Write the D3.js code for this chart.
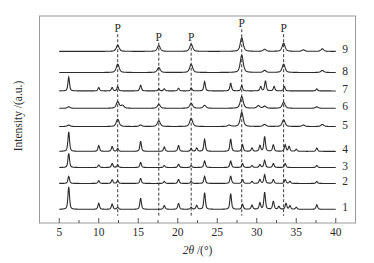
<!DOCTYPE html>
<html><head><meta charset="utf-8">
<script src="https://cdn.jsdelivr.net/npm/d3@7/dist/d3.min.js"></script>
<style>
html,body{margin:0;padding:0;background:#fff;}
svg{display:block;font-family:"Liberation Serif","Times New Roman",serif;}
</style></head><body>
<svg id="chart" width="374" height="263"></svg>
<script>
// ---- data ----
const seriesLabels = ["1","2","3","4","5","6","7","8","9"];
const baselines = [6.6, 19.1, 26.8, 34.6, 46.6, 55.4, 63.8, 72.7, 82.9];
const peakWidths = [0.12, 0.12, 0.12, 0.12, 0.22, 0.22, 0.12, 0.22, 0.22];
const peakPos1 = [6.2,10.0,11.7,12.4,15.3,18.3,20.1,21.7,22.4,23.4,26.7,28.2,29.4,30.4,31.0,32.1,32.8,33.7,34.2,35.0,37.6];
const peakH1   = [10.9,2.9,2.6,1.0,5.3,1.8,2.9,1.0,1.9,8.0,7.5,2.4,2.0,3.1,8.2,3.9,1.4,2.9,1.7,1.0,2.2];
const peakPos2 = [6.2,10.0,11.7,12.4,15.3,18.3,20.1,21.7,23.4,26.7,28.2,29.4,30.4,31.0,32.1,33.6,34.2,37.6];
const peakH2   = [3.4,1.3,1.8,1.4,2.4,1.0,1.9,1.0,3.5,3.5,1.9,1.0,1.9,4.2,1.9,1.9,1.0,1.0];
const peakPos3 = [6.2,10.0,11.7,12.4,15.3,18.3,20.1,21.7,23.4,26.7,28.2,29.4,30.4,31.0,32.1,33.6,37.6];
const peakH3   = [6.8,1.2,1.9,1.3,2.4,1.0,1.6,1.0,3.2,3.2,1.9,1.0,1.4,3.5,1.9,1.9,1.0];
const peakPos4 = [6.2,10.0,11.7,12.4,15.3,18.3,20.1,21.7,22.4,23.4,26.7,28.2,29.4,30.4,31.0,32.1,33.6,34.1,35.0,37.6];
const peakH4   = [9.4,2.8,2.4,1.4,4.8,2.1,2.8,1.4,1.6,5.8,6.0,3.2,1.6,2.8,7.2,3.2,3.2,2.4,1.0,1.6];
const peakPos5 = [6.2,12.4,15.3,17.6,21.7,26.5,28.1,31.0,33.4,35.9,38.3];
const peakH5   = [0.7,3.5,0.7,2.8,3.9,0.7,6.8,1.0,3.2,0.7,1.0];
const peakPos6 = [6.2,12.4,13.0,17.6,21.7,23.4,28.1,30.2,31.0,33.4,37.6];
const peakH6   = [0.7,3.2,1.4,1.9,2.4,1.4,5.7,1.3,1.0,2.9,0.7];
const peakPos7 = [6.2,10.0,11.7,12.4,15.3,17.6,18.3,20.1,21.7,23.4,26.7,28.1,30.5,31.1,32.2,33.5,37.6];
const peakH7   = [6.6,1.6,1.6,2.1,2.8,1.0,1.0,1.3,1.4,4.5,3.7,2.6,2.1,4.8,2.1,2.1,1.0];
const peakPos8 = [12.4,17.6,21.7,28.1,31.0,33.4,38.3];
const peakH8   = [4.0,2.4,4.0,8.4,1.0,4.0,1.0];
const peakPos9 = [12.4,17.6,21.7,28.1,31.0,33.4,35.9,38.3];
const peakH9   = [3.0,2.8,3.5,6.6,1.0,4.0,0.7,1.2];
const markerPos = [12.4, 17.6, 21.7, 28.1, 33.4];
const markerLabel = ["P","P","P","P","P"];
const markerLevel = [94.1, 90.0, 90.0, 96.5, 94.1];
const xTicks = [5,10,15,20,25,30,35,40];
const xMinorTicks = [7.5,12.5,17.5,22.5,27.5,32.5,37.5];

const peakPositions = [peakPos1,peakPos2,peakPos3,peakPos4,peakPos5,peakPos6,peakPos7,peakPos8,peakPos9];
const peakHeights = [peakH1,peakH2,peakH3,peakH4,peakH5,peakH6,peakH7,peakH8,peakH9];

// ---- layout ----
const svg = d3.select("#chart");
const L = 39.5, R = 355.5, T = 16, B = 223;
const x = d3.scaleLinear().domain([2.5, 42.5]).range([L, R]);
const y = d3.scaleLinear().domain([0, 100]).range([B, T]);
const ink = "#2b2b2b";

// frame
svg.append("rect").attr("x", L).attr("y", T).attr("width", R - L).attr("height", B - T)
  .attr("fill", "none").attr("stroke", "#9a9a9a").attr("stroke-width", 1);

// bottom axis, ticks inward
const ax = svg.append("g").attr("transform", `translate(0,${B})`);
ax.selectAll("line.maj").data(xTicks).join("line")
  .attr("x1", d => x(d)).attr("x2", d => x(d)).attr("y1", 0).attr("y2", -5)
  .attr("stroke", "#555").attr("stroke-width", 1);
ax.selectAll("line.min").data(xMinorTicks).join("line")
  .attr("x1", d => x(d)).attr("x2", d => x(d)).attr("y1", 0).attr("y2", -3)
  .attr("stroke", "#555").attr("stroke-width", 1);
ax.selectAll("text").data(xTicks).join("text")
  .attr("x", d => x(d)).attr("y", 13).attr("text-anchor", "middle")
  .attr("font-size", 11.5).attr("fill", ink).text(d => d);

// x label
const xl = svg.append("text").attr("x", (L + R) / 2).attr("y", 254)
  .attr("text-anchor", "middle").attr("font-size", 11.5).attr("fill", ink);
xl.append("tspan").attr("font-style", "italic").text("2θ");
xl.append("tspan").text(" /(°)");

// y label
svg.append("text").attr("transform", "translate(22,116) rotate(-90)")
  .attr("text-anchor", "middle").attr("font-size", 11.5).attr("fill", ink)
  .text("Intensity /(a.u.)");

// marker dashed lines + labels
markerPos.forEach((p, i) => {
  svg.append("line").attr("x1", x(p)).attr("x2", x(p))
    .attr("y1", y(markerLevel[i]) + 6).attr("y2", y(3.5))
    .attr("stroke", "#3a3a3a").attr("stroke-width", 1).attr("stroke-dasharray", "3,2");
  svg.append("text").attr("x", x(p)).attr("y", y(markerLevel[i]) + 4)
    .attr("text-anchor", "middle").attr("font-size", 11.5).attr("fill", ink)
    .text(markerLabel[i]);
});

// patterns (pseudo-Voigt peak profiles from the peak lists)
const grid = d3.range(5, 40.001, 0.04);
const line = d3.line().x(d => x(d[0])).y(d => y(d[1]));
seriesLabels.forEach((lab, i) => {
  const pos = peakPositions[i], hts = peakHeights[i], w = peakWidths[i];
  const pts = grid.map(t => {
    let v = baselines[i];
    pos.forEach((p, k) => {
      const u = (t - p) / w;
      v += hts[k] * (0.55 / (1 + u * u) + 0.45 * Math.exp(-0.693 * u * u));
    });
    return [t, v];
  });
  svg.append("path").datum(pts).attr("d", line)
    .attr("fill", "none").attr("stroke", ink).attr("stroke-width", 1.1);
  svg.append("text").attr("x", 345).attr("y", y(baselines[i]) + 2)
    .attr("text-anchor", "middle").attr("font-size", 11.5).attr("fill", ink).text(lab);
});
</script>
</body></html>
